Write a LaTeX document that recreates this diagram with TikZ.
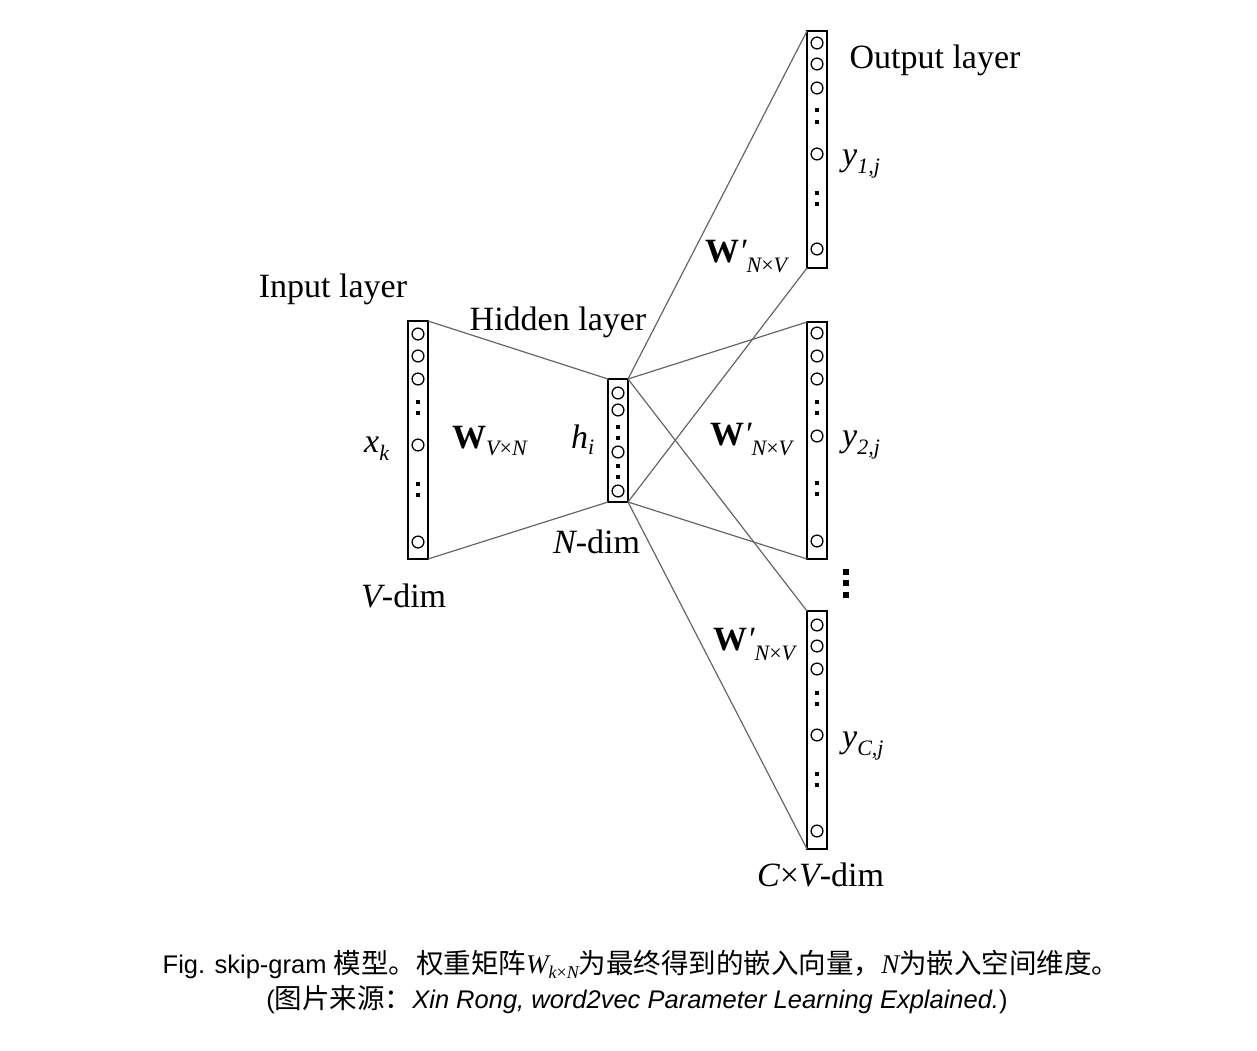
\documentclass[tikz,border=0pt]{standalone}
\usepackage{fontspec}
\setmainfont{Liberation Serif}
\newfontfamily\capfont{Liberation Sans}
\newfontfamily\cjk{Noto Sans CJK SC}
\newcommand\lbsub[2][-8pt]{\raisebox{#1}{\fontsize{22}{22}\selectfont\mdseries #2}}
\newcommand\capsub[1]{\raisebox{-5pt}{\fontsize{18}{18}\selectfont #1}}
\newcommand\cj[1]{{\cjk\fontsize{27.5}{28}\selectfont #1}}
\newcommand\sqdot[2]{\fill ({#1-2.2},{#2-2.2}) rectangle ({#1+2.2},{#2+2.2});}
\begin{document}
\begin{tikzpicture}[x=1pt,y=-1pt,
  colbox/.style={draw, line width=1.6pt, minimum width=20pt, inner sep=0pt, outer sep=0pt},
  circ/.style={line width=1.3pt},
  wire/.style={draw=black!60, line width=1.2pt},
  lbl/.style={inner sep=0pt, anchor=base west, font=\fontsize{34}{34}\selectfont},
  lblc/.style={inner sep=0pt, anchor=base, font=\fontsize{34}{34}\selectfont},
  captext/.style={inner sep=0pt, anchor=base, font=\capfont\fontsize{25.5}{28}\selectfont}]
\useasboundingbox (0,0) rectangle (1257,1050);

% columns
\node[colbox, minimum height=238pt] (in) at (418,440) {};
\node[colbox, minimum height=123pt] (hid) at (618,440.5) {};
\node[colbox, minimum height=237pt] (o1) at (817,149.5) {};
\node[colbox, minimum height=237pt] (o2) at (817,440.5) {};
\node[colbox, minimum height=238pt] (o3) at (817,730) {};

% connectors
\draw[wire] (in.north east) -- (hid.north west);
\draw[wire] (in.south east) -- (hid.south west);
\draw[wire] (hid.north east) -- (o1.north west);
\draw[wire] (hid.south east) -- (o1.south west);
\draw[wire] (hid.north east) -- (o2.north west);
\draw[wire] (hid.south east) -- (o2.south west);
\draw[wire] (hid.north east) -- (o3.north west);
\draw[wire] (hid.south east) -- (o3.south west);

% circles and dots
\foreach \y in {334,356,379,445,542} \draw[circ] (418,\y) circle[radius=5.9pt];
\foreach \y in {402,413,484,495} {\sqdot{418}{\y}}
\foreach \y in {393,410,452,491} \draw[circ] (618,\y) circle[radius=5.9pt];
\foreach \y in {427,438,466,477} {\sqdot{618}{\y}}
\foreach \y in {43,64,88,154,249} \draw[circ] (817,\y) circle[radius=5.9pt];
\foreach \y in {110,122,193,204} {\sqdot{817}{\y}}
\foreach \y in {333,356,379,436,541} \draw[circ] (817,\y) circle[radius=5.9pt];
\foreach \y in {402,413,483,494} {\sqdot{817}{\y}}
\foreach \y in {625,646,669,735,831} \draw[circ] (817,\y) circle[radius=5.9pt];
\foreach \y in {693,704,774,785} {\sqdot{817}{\y}}
\fill (843,569) rectangle (849,575);
\fill (843,580) rectangle (849,586);
\fill (843,592) rectangle (849,598);

% labels
\node[lblc] (tin) at (333,297) {Input layer};
\node[lblc] (thid) at (558,330) {Hidden layer};
\node[lblc] (tout) at (935,68) {Output layer};
\node[lbl] (txk) at (364,452) {\itshape x\lbsub{k}};
\node[lbl] (tw) at (452,448) {\bfseries W\lbsub[-7pt]{\itshape V\upshape×\itshape N}};
\node[lbl] (th) at (571,448) {\itshape h\lbsub[-6pt]{i}};
\node[lbl] (tnd) at (553,553) {\itshape N\upshape-dim};
\node[lbl] (tvd) at (361,607) {\itshape V\upshape-dim};
\node[lbl] (tcvd) at (757,886) {\itshape C\upshape×\itshape V\upshape-dim};
\node[lbl] (tw1) at (705,262) {\bfseries W\mdseries\itshape′\lbsub[-10pt]{\itshape N\upshape×\itshape V}};
\node[lbl] (tw2) at (710,445) {\bfseries W\mdseries\itshape′\lbsub[-10pt]{\itshape N\upshape×\itshape V}};
\node[lbl] (tw3) at (713,650) {\bfseries W\mdseries\itshape′\lbsub[-10pt]{\itshape N\upshape×\itshape V}};
\node[lbl] (ty1) at (842,165) {\itshape y\lbsub{1,j}};
\node[lbl] (ty2) at (842,446) {\itshape y\lbsub{2,j}};
\node[lbl] (ty3) at (842,747) {\itshape y\lbsub{C,j}};

% caption
\node[captext] (cap1) at (641,973) {Fig. skip-gram \cj{模型。权重矩阵}{\rmfamily\itshape\fontsize{27}{28}\selectfont W\capsub{k\upshape×\itshape N}}\cj{为最终得到的嵌入向量，}{\rmfamily\itshape\fontsize{27}{28}\selectfont N}\cj{为嵌入空间维度。}};
\node[captext] (cap2) at (637,1008) {(\cj{图片来源：}{\itshape Xin Rong, word2vec Parameter Learning Explained.})};
\end{tikzpicture}
\end{document}
